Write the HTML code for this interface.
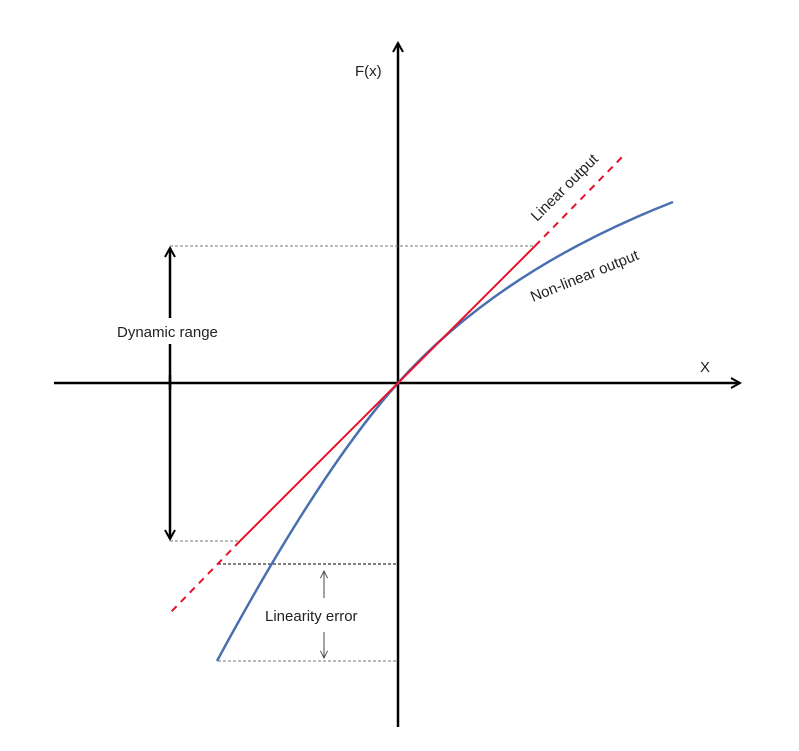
<!DOCTYPE html>
<html><head><style>body{margin:0;background:#fff}</style></head><body>
<svg width="799" height="746" viewBox="0 0 799 746" xmlns="http://www.w3.org/2000/svg" font-family="Liberation Sans, sans-serif" font-size="15" fill="#222">
<defs>
<marker id="ah" viewBox="0 0 12 12" refX="10" refY="6" markerWidth="12" markerHeight="12" markerUnits="userSpaceOnUse" orient="auto"><path d="M1,1 L10,6 L1,11" fill="none" stroke="#000" stroke-width="2"/></marker>
<marker id="sa" viewBox="0 0 10 10" refX="9" refY="5" markerWidth="9" markerHeight="9" markerUnits="userSpaceOnUse" orient="auto"><path d="M1,1 L9,5 L1,9" fill="none" stroke="#444" stroke-width="1"/></marker>
</defs>
<line x1="54" y1="383" x2="740" y2="383" stroke="#000" stroke-width="2.5" marker-end="url(#ah)"/>
<line x1="398" y1="727" x2="398" y2="43" stroke="#000" stroke-width="2.5" marker-end="url(#ah)"/>
<text x="355" y="76">F(x)</text>
<text x="700" y="372">X</text>
<g stroke="#777" stroke-width="1" stroke-dasharray="3,2">
<line x1="170" y1="246" x2="535" y2="246"/>
<line x1="170" y1="541" x2="240" y2="541"/>
<line x1="218" y1="661" x2="398" y2="661"/>
</g>
<line x1="218" y1="564" x2="398" y2="564" stroke="#000" stroke-width="1" stroke-dasharray="3,2"/>
<line x1="170" y1="390" x2="170" y2="248" stroke="#000" stroke-width="2.5" marker-end="url(#ah)"/>
<line x1="170" y1="375" x2="170" y2="539" stroke="#000" stroke-width="2.5" marker-end="url(#ah)"/>
<rect x="110" y="318" width="130" height="26" fill="#fff"/>
<text x="117" y="337">Dynamic range</text>
<line x1="324" y1="598" x2="324" y2="571" stroke="#444" stroke-width="1" marker-end="url(#sa)"/>
<line x1="324" y1="632" x2="324" y2="658" stroke="#444" stroke-width="1" marker-end="url(#sa)"/>
<text x="265" y="621">Linearity error</text>
<path d="M217,661 Q320,470 398,383 Q499,270 673,202" fill="none" stroke="#4a70b0" stroke-width="2.5"/>
<line x1="240" y1="541" x2="535" y2="246" stroke="#e8102a" stroke-width="2"/>
<line x1="535" y1="246" x2="626" y2="153" stroke="#e8102a" stroke-width="2" stroke-dasharray="7,6"/>
<line x1="240" y1="541" x2="170" y2="613" stroke="#e8102a" stroke-width="2" stroke-dasharray="7,6"/>
<text transform="translate(537,222) rotate(-45)">Linear output</text>
<text transform="translate(533,302) rotate(-22)">Non-linear output</text>
</svg>
</body></html>
